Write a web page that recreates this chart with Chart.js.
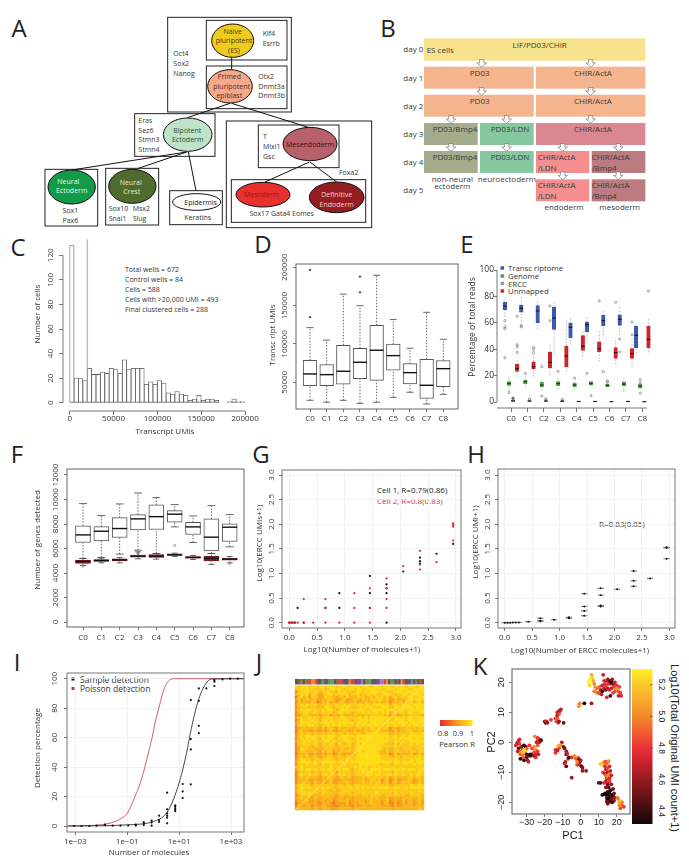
<!doctype html>
<html><head><meta charset="utf-8">
<style>html,body{margin:0;background:#fff;overflow:hidden;width:689px;height:861px}canvas{position:absolute}svg{position:absolute;left:0;top:0}</style>
<script src="https://cdn.jsdelivr.net/npm/chart.js@4"></script>
</head><body>
<svg id="ov" width="689" height="861" xmlns="http://www.w3.org/2000/svg"></svg>
<script>
const clusters=['C0','C1','C2','C3','C4','C5','C6','C7','C8'];
const clusterPos=[1,2,3,4,5,6,7,8,9];
// C histogram
const histBinCenters=[2500,7500,12500,17500,22500,27500,32500,37500,42500,47500,52500,57500,62500,67500,72500,77500,82500,87500,92500,97500,102500,107500,112500,117500,122500,127500,132500,137500,142500,147500,152500,157500,162500,167500,172500,177500,182500,187500,192500,197500];
const histCounts=[128,20,20,18,28,23,23,25,24,28,27,24,35,27,28,28,28,15,17,15,18,16,8,7,9,7,6,2,3,6,2,3,3,2,0,0,1,3,1,1];
const cutoffUmi=20000;
// D boxes [low,q1,median,q3,high]
const umiBoxes=[[26500,45650,60900,78700,121300],[24000,45650,60000,73000,105000],[26500,47400,64400,98300,165000],[22600,54800,76100,94400,150000],[24000,52600,91800,124400,189600],[30400,65700,84800,100000,131800],[37000,47800,62600,74400,94400],[21700,29100,46100,80000,141300],[34300,44300,67800,78300,106100]];
const umiOutliers=[[1,196600],[1,135000],[4,187900],[4,167400]];
// E boxes
const transcriptomeBoxes=[[64.6,69.7,72.7,75.5,78.5],[60.9,68,71,73.5,79.3],[55,60,69,73,78],[35.4,55,63.6,72,75.7],[43.7,48.7,56.6,59.8,63.6],[45,53.3,58.6,60.6,64.6],[50.8,57.8,61.6,65.6,70.2],[50.8,58,62.6,66,71.7],[37,41,50.5,57.3,60]];
const transcriptomeOut=[[1,61.6],[1,57],[1,55.5],[1,33.6],[2,58],[2,57],[6,21.7],[7,23],[8,47.7],[8,38]];
const genomeBoxes=[[9,12.6,13.9,15.4,19],[11,13.9,15.4,16.7,20],[8.3,11.6,12.9,14.9,16.7],[9.6,12.4,13.9,15.4,18.4],[9.6,11.6,12.9,14.1,15.4],[12,12.9,13.9,15.4,16],[10.9,11.6,12.6,13.6,14.4],[7.8,12.1,13.6,15.2,18.4],[9.6,10.6,12.1,13.4,14.6]];
const genomeOut=[[1,7.3],[2,21.7],[3,26.8],[3,4.5],[4,23.2],[5,18],[6,4.8],[7,16],[7,15],[9,17],[9,6.6],[9,14.4]];
const erccBoxes=[[0,.4,.8,1.2,2],[0,.4,.7,1,1.5],[0,.4,.7,1,1.6],[0,.3,.6,.9,1.4],[0,.2,.4,.5,.8],[0,.2,.4,.6,.9],[0,.1,.3,.4,.6],[0,.2,.4,.6,.9],[0,.1,.2,.4,.6]];
const erccOut=[[1,3],[1,2.5],[2,2],[3,2.2],[4,1.8]];
const unmappedBoxes=[[19.2,23.2,25.3,28.5,33],[19.2,25,26.8,30.5,36.9],[20,25.8,30,37.9,43.7],[23,26.8,34.8,42.4,63.4],[34.3,39,42.2,50.3,55.3],[30.5,37.9,40.4,45.5,54.5],[28.8,33,37.4,41.2,47.7],[26.8,33,36.6,40.4,49.5],[37.6,41.2,47.5,57.3,62.9]];
const unmappedOut=[[1,43.4],[1,42],[1,37.6],[1,65],[2,41.4],[2,39.9],[2,37.4],[3,72.7],[3,61.6],[6,76.5],[7,75.5],[8,60.6],[8,51],[9,84]];
// F boxes
const genesHighBoxes=[[5185,6490,7110,7850,9665],[5267,6625,7410,7790,8690],[5540,6900,7630,8525,9640],[5865,7520,8420,8770,10530],[5590,7550,8600,9555,10150],[7765,8145,8800,9095,9585],[6490,7140,7765,8145,8660],[5590,5810,6925,8420,9500],[6135,6570,7740,8010,8770]];
const genesHighOut=[[6,6245]];
const genesLowBoxes=[[4615,4780,4940,5050,5185],[4830,4940,5020,5100,5210],[4830,4995,5077,5160,5267],[5160,5295,5375,5457,5730],[5130,5267,5375,5512,5590],[5350,5430,5484,5565,5620],[5100,5210,5267,5350,5430],[4700,4995,5185,5375,5590],[4830,5050,5130,5210,5350]];
const genesLowOut=[[1,4560],[4,5650],[4,5600],[9,4780]];
// G points
const cell1Points=[[0,0],[.05,0],[.1,0],[.15,.3],[.26,0],[.65,.3],[.9,.3],[.9,.6],[1.45,.3],[1.45,.6],[1.45,.95],[1.75,0],[1.75,.6],[1.75,.7],[1.75,.78],[2.05,1.04],[2.35,1.2],[2.35,1.25],[2.35,1.32],[2.65,1.4],[2.95,1.6]];
const cell2Points=[[0,0],[.02,0],[.05,0],[.08,0],[.15,0],[.26,0],[.26,.48],[.43,0],[.65,0],[.65,.3],[.65,.48],[.9,0],[1.17,0],[1.17,.3],[1.17,.6],[1.45,0],[1.45,.3],[1.45,.7],[1.75,.3],[1.75,.48],[1.75,.7],[1.75,.9],[2.05,1.15],[2.35,1.08],[2.35,1.18],[2.35,1.46],[2.65,1.23],[2.95,1.67],[2.95,1.95],[2.95,1.98],[2.95,2.0],[2.95,2.02]];
// H points
const meanErccPoints=[[0,0],[.05,0],[.1,0],[.15,.003],[.2,.005],[.26,.006],[.43,.02],[.65,.03],[.65,.04],[.65,.09],[.9,.06],[1.17,.09],[1.17,.11],[1.45,.14],[1.45,.24],[1.45,.33],[1.45,.59],[1.75,.33],[1.75,.35],[1.75,.56],[1.75,.7],[2.05,.68],[2.35,.74],[2.35,.85],[2.35,1.05],[2.65,.9],[2.95,1.3],[2.95,1.52],[2.95,1.53]];
// I
const sampleDetection=[[-3.05,0],[-2.76,0],[-2.46,0],[-2.18,.2],[-1.86,.5],[-1.86,.9],[-1.56,.2],[-1.26,.3],[-.96,.3],[-.67,.3],[-.67,.9],[-.36,.7],[-.36,1.8],[-.36,2.7],[-.06,.2],[-.06,2.3],[-.06,3.6],[.23,2.7],[.23,4],[.23,7],[.54,1.8],[.54,5.7],[.54,7],[.54,8.6],[.54,11.3],[.54,22.6],[.85,10],[.85,11],[.85,12],[.85,13],[.85,14],[1.14,19],[1.14,23.5],[1.14,28.5],[1.45,28.3],[1.45,52],[1.45,59],[1.45,85.5],[1.76,63],[1.76,68],[1.76,85],[1.76,93.4],[2.05,93.4],[2.36,95],[2.36,98],[2.36,99],[2.67,99.5],[2.96,100],[3.26,100]];
const sampleFit=[[-3.3,0],[-2,.2],[-1,.8],[0,3],[.51,8.6],[.77,17.6],[1.03,31],[1.28,49],[1.47,66],[1.67,81],[1.86,91],[2.12,98.6],[2.3,99.8],[3.5,100]];
const poissonCurve=[[-3.3,0],[-2.5,.3],[-2,.9],[-1.5,2.8],[-1.2,5.5],[-1,8.5],[-.7,20],[-.5,29],[-.32,40],[-.15,52],[-.04,60],[.1,72],[.22,80],[.35,89],[.47,95],[.6,98.5],[.77,100],[1.5,100],[3.5,100]];
// J : digit d = Pearson 0.8 + 0.02 d, top row first
const pearsonRows=[
"878887887887888788887888788878887888788887888788",
"778787877786788787778878877888787788878888778888",
"477887787677877687877678878788878877788878888878",
"668786786567886778786778677878777888767788788887",
"378675776558776567686667776676878675786777887788",
"575676675566776556755676576677787675576667787887",
"476665764576756567656675667667676674666767786786",
"578787787677877877878778877878888786787788878888",
"467776776768876778787677878787778887688788887888",
"568788787787887678887878887788888788877887888888",
"467887787687786788787677787878878786787877887788",
"456776666566756667666676667677777675675676777776",
"578778787677887778877778878788888887788787887888",
"468777877688787787887677888788888787788887888788",
"578888787788888788888878888788888888878888788888",
"478778877677878787877778787888878787787787878878",
"456766676575776576676667767687786774665667767677",
"367665565565675566765675667677776665575667776676",
"467677676676777677677677767878877776676777787778",
"578788787787888778887878888888888887787787888888",
"468787887687887687887678788888888787787878887887",
"577878787778878777888778888888888887788787888888",
"477877787677787687677678788888888777686877787887",
"467777677677777677777678888888887777787777777778",
"458776766667776667667678888888887676677677776777",
"467766676576775667677678878888876676677767677687",
"366675565565674576565678888888876674575666675676",
"467676676566776677677778888888887776677677777787",
"478777677677877677787778888888887777787777787887",
"578888787788888788787888888888888888788788887888",
"477787787687787777877777888888877787687778778787",
"678777777777787777777787878778787777777777777777",
"578788787787887687887677888788887888788787888788",
"467777677677787577777677787887787777687777777787",
"478778787678787687877678778887887788787787787887",
"467677666576776567667566676777777675676666776776",
"466675565565675556665566675677674674575566765676",
"466766576575675566676566676676775674675676765676",
"678777677677777677677677777777877776677777787787",
"578878777787877677778778787878788887788778788888",
"678777777777767667777777777777777777777777777787",
"577878777687776677777677787777877777687777787777",
"467777666676766567667676677677776677677676677776",
"567666576566665566566566666676766665566566666676",
"466675565565664566675566665676665674565575665675",
"365665565465653555574565675676664664464565665675",
"466566465566554456565465566566665565465566665666",
"566666566566655566666566666666666666566666666676"];
const sampleBand="kkbokorrnnrkkgpkoggkbrrpkknrrkpplkoogkkppllrnkgokbknrkkpgkokrk";
// K : [PC1, PC2, log10 UMI]
const pcaTop=[[6,22.5,5.1],[6.5,21.5,5.2],[5,21,5.3],[4.5,20,5.3],[5,19,5.25],[7,20.5,5.1],[7.5,19.5,5.0],[8,18.5,5.05],[7.5,17,4.95],[8,17,5.0],[9,18,4.95],[9,16.5,5.0],[10,16.5,4.85],[10.5,18.5,4.9],[11,17.5,4.7],[11.5,16,4.7],[12,17,4.4],[12,19,4.7],[12.5,22.5,4.7],[13,20.5,4.75],[13,18,4.65],[13.5,19.5,4.8],[14,17.5,4.5],[14,19,4.8],[14.5,20.5,4.7],[14.5,15,4.75],[15,18,4.65],[15,21,4.6],[15.5,19.5,4.8],[16,20.5,4.5],[16,17.5,4.75],[16.5,15.5,4.4],[16.5,19.5,4.75],[17,20,4.3],[17,18,4.7],[17.5,21,4.6],[18,19.5,4.5],[18,16.5,4.8],[18.5,18.5,4.75],[19,20,4.7],[19,17,4.85],[19.5,18,5.0],[20,19,4.8],[20.5,18,5.05],[21,17,4.9],[21.5,18.5,4.85],[22,16.5,4.8],[22.5,15.5,4.75],[21,15.5,4.7],[-1,12.5,5.1],[-1,12,5.05],[-.5,13,5.0],[2,13,4.3],[6,13,4.6]];
const pcaMidUp=[[-20,7,4.6],[-19.5,6.5,4.5],[-19,7,4.75],[-18.5,6.5,4.6],[-16.5,7.5,4.8],[-14,8,4.8],[-13.5,7,4.85],[-13,8,4.9],[-13,9,4.7],[-12.5,6.5,4.75],[-12,7,4.6],[-13,10,4.75],[-12.5,9.5,4.6],[-12,10.5,4.7],[-11.5,10.5,4.65],[-11,11,4.7],[-12,9.5,4.85],[-9.5,6.5,4.45]];
const pcaLeft=[[-34,1,4.75],[-34.5,.5,4.7],[-35,0,4.75],[-35.5,-.5,4.65],[-34,-.5,4.8],[-36,-1,4.75],[-33,-1.5,4.6],[-34.5,-2,4.5],[-33,-3,4.85],[-35,-3,4.7],[-32,-2.5,4.4],[-32,-4,5.0],[-33.5,-4,4.9],[-31.5,-1,4.3],[-30.5,-1.5,4.4],[-32,-5,4.9],[-31,-3.5,5.1],[-31.5,-6,4.4],[-33.5,-5.5,4.35],[-30,-5,4.5],[-30,-4,4.4],[-29,-4.2,4.4],[-28,-4,4.5],[-29.5,-6,4.6],[-29,-6.5,4.7],[-28,-4.5,4.4],[-27,-4,4.35],[-27,-2,4.8],[-26,-1.5,5.0],[-25.5,-3,4.9],[-25,-2.5,5.05],[-26,-3.5,4.85],[-25,-4,4.75],[-24,-3,4.8],[-24,-1,4.9],[-23.5,-4,4.7],[-25,-5,4.8],[-26,-4.5,4.65],[-25.5,2,5.0],[-24,1.5,4.8],[-23,1,4.75],[-24,.5,4.85],[-22.5,.5,4.4],[-23,0,4.7],[-24.5,0,4.7],[-22,.7,4.45],[-30.5,-2.5,5.15],[-30,-2,4.9],[-28.5,-1,4.8],[-32.5,-3.2,5.2],[-31.5,-2.5,5.25]];
const pcaMid=[[-10.5,0,4.65],[-11,-1,5.0],[-12,-1,5.1],[-12.5,-1.5,5.15],[-12,-2,4.85],[-14,-2.5,4.75],[-14,-3.5,4.8],[-13,-2.8,4.7],[-9.5,-1.5,4.5],[-9,-2,4.55],[-8,-3,4.6],[-8,-4,4.45],[-7.5,-3.8,4.7],[-8.5,-6.5,4.6],[-9,-7,4.7],[-7,-5.5,4.75],[-6.5,-5,4.3],[-8,-8,4.45],[-5,-5,4.75],[-3.5,-4.5,5.0],[-3,-5,5.05],[-2.5,-5.5,4.85],[-1.5,-5,5.0],[-1,-5.5,4.7],[-1,-6,4.35],[-.5,-6.5,4.5],[0,-6,4.65],[-2,-6.5,5.0],[-2,-7.5,4.85],[-.5,-7.5,4.7],[.5,-8,4.45],[1,-8.5,4.55],[1,-9.5,4.6],[3,-9.5,4.6],[-5,-11.8,4.6]];
const pcaBottom=[[11,-7.2,5.2],[12,-7.5,5.25],[12.5,-7,5.1],[13,-6.5,5.05],[14,-6.5,4.8],[14.5,-7,4.9],[13.5,-8,4.75],[15.5,-6.3,5.0],[14,-9,4.7],[15,-8.5,4.85],[16,-8,4.75],[12.5,-10,4.8],[13.5,-10.5,4.65],[15,-10,4.6],[16,-10.5,5.0],[16.5,-9.5,4.7],[14,-11,4.9],[14.5,-12,4.7],[15,-11.5,5.0],[16,-12,4.75],[17,-11,4.7],[16,-13,4.8],[14,-13,4.65],[13,-13.5,4.75],[11,-13.5,4.4],[10,-13.5,4.5],[15,-14,4.5],[17,-14,4.6],[15.5,-15,4.4],[18,-15.5,4.5],[16.5,-16,4.35],[12,-17.5,4.35],[13.5,-17,4.3],[14,-17.5,4.3],[15,-16.5,4.4],[15.5,-17.5,4.35],[16,-17,4.3],[17,-17.5,4.4],[18,-18,4.35],[18.5,-17,4.5],[14.5,-18.5,4.45],[15,-19,4.3],[16,-18.5,4.3],[16.5,-19.5,4.4],[17,-18.8,4.5],[17.5,-20,4.35],[15.5,-20,4.45],[15,-20.5,4.6],[14.5,-19.8,4.5],[18.5,-19.5,4.55],[19,-18.5,4.6],[14,-15,4.55],[21,-19,5.05],[21.5,-20,5.1],[22,-19.5,5.2],[22.5,-20.5,5.1],[23,-20,5.0],[23,-21,4.95],[24,-21.5,4.8],[22,-22,4.85],[20.5,-18.5,4.95],[21.5,-21,5.0]];

// ---------- helpers ----------
const FONT='"Open Sans"', HELV='"Liberation Sans"';
Chart.defaults.animation=false;
Chart.defaults.font.family=FONT;
const mctx=document.createElement('canvas').getContext('2d');
const measure=(t,f)=>{mctx.font=f;return mctx.measureText(t).width};
const lim=(p0,v0,p1,v1,pa,pb)=>{const k=(v1-v0)/(p1-p0);return [v0+(pa-p0)*k,v0+(pb-p0)*k]};
const look={id:'look',afterDatasetsDraw(c,_,o){const g=c.ctx,a=c.chartArea;g.save();
  if(o.frame){g.strokeStyle=o.frame;g.lineWidth=o.frameW||1;g.strokeRect(a.left,a.top,a.right-a.left,a.bottom-a.top);}
  g.strokeStyle='#555';g.lineWidth=.8;
  if(o.ax){const s=c.scales.x,t=s.ticks;g.beginPath();g.moveTo(o.ax==='full'?a.left:s.getPixelForValue(t[0].value),a.bottom);g.lineTo(o.ax==='full'?a.right-(o.axInset||0):s.getPixelForValue(t[t.length-1].value),a.bottom);g.stroke();}
  if(o.ay){const s=c.scales.y,t=s.ticks;g.beginPath();g.moveTo(a.left,s.getPixelForValue(t[0].value));g.lineTo(a.left,s.getPixelForValue(t[t.length-1].value));g.stroke();}
  g.restore();}};
function scaleOpts(name,a,plot,m,org){
  const isX=name==='x',size=a.size||8,family=a.family||FONT,tl=a.tl??3;
  const labels=a.labels||a.vals.map(String);
  const fstr=size+'px '+family;let padding,extra={};
  if(isX)padding=a.labelAt-plot[3]-tl-size*.62;
  else if(a.rotate){const w=Math.max(...labels.map(t=>measure(t,fstr)));padding=plot[0]-a.labelAt-tl-w/2;extra={minRotation:90,maxRotation:90,crossAlign:'center'};}
  else padding=plot[0]-tl-a.labelAt;
  const o={type:a.type||'linear',min:a.lim[0],max:a.lim[1],bounds:'data',offset:false,
    afterBuildTicks(s){s.ticks=a.vals.map(v=>({value:v}));},
    afterFit(s){if(isX)s.height=m.b;else s.width=m.l;
      if(a.title&&!s.__w){s.__w=true;const orig=s.drawTitle;s.drawTitle=function(){const ts=a.title.size||size,lh=ts*1.2;
        const x0=isX?(s.left+s.right)/2:s.left+lh/2,y0=isX?s.bottom-lh/2:(s.top+s.bottom)/2;
        s.ctx.save();s.ctx.translate(a.title.at[0]-org[0]-x0,a.title.at[1]-org[1]-y0);orig.call(s);s.ctx.restore();};}},
    ticks:Object.assign({display:true,autoSkip:false,padding,color:a.color||'#333',font:{size,family},callback:(v,i)=>labels[i]},isX?{maxRotation:0,minRotation:0}:extra),
    grid:{display:true,offset:false,drawOnChartArea:!!a.grid,color:'#eeeeee',tickColor:'#555',tickLength:tl,lineWidth:.8},
    border:{display:false}};
  if(a.title)o.title={display:true,text:a.title.text,color:a.color||'#333',padding:0,font:{size:a.title.size||size,family}};
  return o;
}
function mk(plot,x,y,datasets,lookOpts,mm){
  const m=Object.assign({l:60,r:20,t:12,b:40},mm||{});
  const cv=document.createElement('canvas');const w=plot[2]-plot[0]+m.l+m.r,h=plot[3]-plot[1]+m.t+m.b;
  const org=[plot[0]-m.l,plot[1]-m.t];
  cv.width=w;cv.height=h;cv.style.cssText=`left:${org[0]}px;top:${org[1]}px;width:${w}px;height:${h}px`;
  document.body.appendChild(cv);
  return new Chart(cv,{type:'scatter',data:{datasets},plugins:[look],options:{responsive:false,animation:false,devicePixelRatio:1,
    layout:{padding:{top:m.t,right:m.r,left:0,bottom:0}},
    plugins:{legend:{display:false},tooltip:{enabled:false},look:lookOpts||{}},
    scales:{x:scaleOpts('x',x,plot,m,org),y:scaleOpts('y',y,plot,m,org)}}});
}
function boxSets(rows,xs,o){
  const wh=[];rows.forEach((r,i)=>{const X=xs[i];wh.push({x:X,y:r[0]},{x:X,y:r[1]},{x:X,y:NaN},{x:X,y:r[3]},{x:X,y:r[4]},{x:X,y:NaN});});
  const out=[{type:'line',showLine:true,data:wh,borderColor:o.whisk||'#444',borderWidth:o.wW||.8,borderDash:[1.5,1.5],pointRadius:0,order:6},
   {type:'bar',data:rows.map((r,i)=>({x:xs[i],y:[r[1],r[3]]})),backgroundColor:o.fill||'#fff',borderColor:o.stroke||'#555',borderWidth:o.bW??1,borderSkipped:false,barThickness:o.w,grouped:false,order:5},
   {type:'scatter',data:rows.map((r,i)=>({x:xs[i],y:r[2]})),pointStyle:'line',pointRadius:o.w/2,pointBorderWidth:o.mW||1.4,pointBorderColor:o.med||'#111',order:1}];
  if(o.cap)out.push({type:'scatter',data:rows.flatMap((r,i)=>[{x:xs[i],y:r[0]},{x:xs[i],y:r[4]}]),pointStyle:'line',pointRadius:o.cap,pointBorderWidth:.8,pointBorderColor:o.whisk||'#444',order:4});
  return out;
}
const outSet=(list,dx,col)=>({type:'scatter',data:list.map(p=>({x:p[0]+dx,y:p[1]})),pointRadius:1.1,pointBorderWidth:.6,pointBorderColor:col||'#666',pointBackgroundColor:'rgba(0,0,0,0)',order:2});
const pts=(list,col,r)=>({type:'scatter',data:list.map(p=>({x:p[0],y:p[1]})),pointRadius:r,pointBorderWidth:0,pointBackgroundColor:col,order:1});
const k5=[50000,100000,150000,200000];

// ---------- C ----------
{const P=[63,239,250,411];
mk(P,{lim:lim(69.7,0,245,200000,P[0],P[2]),vals:[0,50000,100000,150000,200000],labelAt:419,tl:4,title:{text:'Transcript UMIs',at:[165,432]}},
 {lim:lim(402.7,0,255.3,120,P[3],P[1]),vals:[0,20,40,60,80,100,120],rotate:true,labelAt:51,tl:4,title:{text:'Number of cells',at:[38,314]}},
 [{type:'line',showLine:true,data:[{x:cutoffUmi,y:0},{x:cutoffUmi,y:133}],borderColor:'#dd8a8a',borderWidth:1,pointRadius:0,order:1},
  {type:'bar',data:histCounts.map((v,i)=>({x:histBinCenters[i],y:v})),backgroundColor:'#fff',borderColor:'#555',borderWidth:.8,borderSkipped:false,barThickness:4.38,grouped:false,order:2}],
 {ax:'ticks',ay:'ticks'});}
// ---------- D ----------
{const P=[296,264,458,409];
mk(P,{lim:lim(310,1,443.3,9,P[0],P[2]),vals:clusterPos,labels:clusters,labelAt:419,tl:3},
 {lim:lim(382.3,50000,267.3,200000,P[3],P[1]),vals:k5,rotate:true,labelAt:285,tl:3,title:{text:'Transc ript UMIs',at:[273,335]}},
 [...boxSets(umiBoxes,clusterPos,{w:13.7,cap:3.5}),Object.assign(outSet(umiOutliers,0,'#444'),{pointRadius:.9,pointBackgroundColor:'#444'})],
 {frame:'#666',frameW:1});}
// ---------- E ----------
{const P=[497,262,654,408];const off=[-.375,-.125,.125,.375];const xsAt=d=>clusterPos.map(v=>v+d);
mk(P,{lim:lim(511,1,642.3,9,P[0],P[2]),vals:clusterPos,labels:clusters,labelAt:419,tl:4},
 {lim:lim(402,0,270,100,P[3],P[1]),vals:[0,20,40,60,80,100],labelAt:494,tl:3,size:8.5,title:{text:'Percentage of total reads',at:[473,327],size:8.5}},
 [...boxSets(transcriptomeBoxes,xsAt(off[0]),{w:3.6,fill:'#3c5ba6',stroke:'#3c5ba6',med:'#0c1430',whisk:'#888',mW:1.1,wW:.6}),
  ...boxSets(genomeBoxes,xsAt(off[1]),{w:3.6,fill:'#5a9e50',stroke:'#5a9e50',med:'#0e2a10',whisk:'#888',mW:1.1,wW:.6}),
  ...boxSets(erccBoxes,xsAt(off[2]),{w:3.6,fill:'#888',stroke:'#888',med:'#111',whisk:'#888',mW:1.1,wW:.6}),
  ...boxSets(unmappedBoxes,xsAt(off[3]),{w:3.6,fill:'#cf2429',stroke:'#cf2429',med:'#3a0508',whisk:'#888',mW:1.1,wW:.6}),
  outSet(transcriptomeOut,off[0]),outSet(genomeOut,off[1]),outSet(erccOut,off[2],'#333'),outSet(unmappedOut,off[3])],
 {ax:'full',axInset:7,ay:'ticks'},{r:10});}
// ---------- F ----------
{const P=[67,469,244,627];
mk(P,{lim:lim(83,1,229.7,9,P[0],P[2]),vals:clusterPos,labels:clusters,labelAt:638,tl:3},
 {lim:lim(622,0,475,12000,P[3],P[1]),vals:[0,2000,4000,6000,8000,10000,12000],rotate:true,labelAt:55.5,tl:3,title:{text:'Number of genes detected',at:[38,540]}},
 [...boxSets(genesHighBoxes,clusterPos,{w:15,cap:4}),outSet(genesHighOut,0),
  ...boxSets(genesLowBoxes,clusterPos,{w:15,fill:'#8f1f28',stroke:'#6f1a20',cap:3,mW:1.4}),outSet(genesLowOut,0)],
 {frame:'#666',frameW:1});}
// ---------- G ----------
{const P=[282,470,461,628];
mk(P,{lim:lim(289.3,0,456,3,P[0],P[2]),vals:[0,.5,1,1.5,2,2.5,3],labels:['0.0','0.5','1.0','1.5','2.0','2.5','3.0'],labelAt:638,tl:3,grid:true,title:{text:'Log10(Number of molecules+1)',at:[362,650]}},
 {lim:lim(622.7,0,475,3,P[3],P[1]),vals:[0,.5,1,1.5,2,2.5,3],labels:['0.0','0.5','1.0','1.5','2.0','2.5','3.0'],rotate:true,labelAt:271.5,tl:3,grid:true,title:{text:'Log10(ERCC UMIs+1)',at:[260,543]}},
 [pts(cell2Points,'#d8283c',1.1),pts(cell1Points,'#111',1.1)],
 {frame:'#777',frameW:1});}
// ---------- H ----------
{const P=[498,469,675,628];
mk(P,{lim:lim(504.7,0,669.3,3,P[0],P[2]),vals:[0,.5,1,1.5,2,2.5,3],labels:['0.0','0.5','1.0','1.5','2.0','2.5','3.0'],labelAt:638,tl:3,grid:true,title:{text:'Log10(Number of ERCC molecules+1)',at:[580,651]}},
 {lim:lim(622.7,0,475,3,P[3],P[1]),vals:[0,.5,1,1.5,2,2.5,3],labels:['0.0','0.5','1.0','1.5','2.0','2.5','3.0'],rotate:true,labelAt:487.5,tl:3,grid:true,title:{text:'Log10(ERCC UMI+1)',at:[475.5,542]}},
 [{type:'scatter',data:meanErccPoints.map(p=>({x:p[0],y:p[1]})),pointStyle:'line',pointRadius:3.2,pointBorderWidth:1,pointBorderColor:'#777',order:2},pts(meanErccPoints,'#111',1)],
 {frame:'#777',frameW:1},{r:13});}
// ---------- I ----------
{const P=[67,673,244,832];const lx=lim(75.3,-3,231,3,P[0],P[2]);const toXY=l=>l.map(p=>({x:10**p[0],y:p[1]}));
mk(P,{type:'logarithmic',lim:[10**lx[0],10**lx[1]],vals:[1e-3,1e-1,1e1,1e3],labels:['1e\u221203','1e\u221201','1e+01','1e+03'],labelAt:842,tl:3,grid:true,title:{text:'Number of molecules',at:[149,853]}},
 {lim:lim(826,0,678.7,100,P[3],P[1]),vals:[0,20,40,60,80,100],rotate:true,labelAt:55,tl:3,grid:true,title:{text:'Detection percentage',at:[38,748]}},
 [{type:'line',showLine:true,data:toXY(poissonCurve),borderColor:'#d85a6a',borderWidth:1,pointRadius:0,cubicInterpolationMode:'monotone',order:3},
  {type:'line',showLine:true,data:toXY(sampleFit),borderColor:'#333',borderWidth:.9,pointRadius:0,cubicInterpolationMode:'monotone',order:2},
  {type:'scatter',data:toXY(sampleDetection),pointRadius:1.1,pointBorderWidth:0,pointBackgroundColor:'#111',order:1}],
 {frame:'#777',frameW:1},{b:29});}
// ---------- J ----------
{const P=[291,675,428,814];const N=pearsonRows.length;
const heat=['#ed2b24','#ef4423','#f25c22','#f47421','#f68b1f','#f8a11c','#fab51a','#fcc918','#fddc16','#ffef14'];
const bandCols={k:'#5d5a55',b:'#8a6a4a',o:'#7d8a45',r:'#dc4a3c',n:'#ee8a3c',g:'#5aa469',p:'#7a4f9a',l:'#a580b5'};
const cells=[];pearsonRows.forEach((row,r)=>[...row].forEach((d,c)=>cells.push({x:c+.5,y:N-r-.5,v:+d})));
const cv=document.createElement('canvas');cv.width=137;cv.height=139;cv.style.cssText=`left:${P[0]}px;top:${P[1]}px;width:137px;height:139px`;document.body.appendChild(cv);
new Chart(cv,{type:'scatter',data:{datasets:[
  {type:'line',showLine:true,data:[{x:0,y:0},{x:N,y:N}],borderColor:'#ffe45c',borderWidth:1,pointRadius:0,order:1},
  {type:'bar',data:[...sampleBand].map((ch,i)=>({x:(i+.5)*N/sampleBand.length,y:[N+.6,N*139/132]})),backgroundColor:[...sampleBand].map(ch=>bandCols[ch]),barThickness:137/sampleBand.length+.3,grouped:false,borderWidth:0,order:3},
  {type:'scatter',data:cells,pointStyle:'rect',pointRadius:2.2,pointBorderWidth:0,pointBackgroundColor:cells.map(c=>heat[c.v]),clip:false,order:2}]},
 options:{responsive:false,animation:false,devicePixelRatio:1,layout:{padding:0},plugins:{legend:{display:false},tooltip:{enabled:false}},
 scales:{x:{type:'linear',min:0,max:N,display:false,offset:false},y:{type:'linear',min:0,max:N*139/132,display:false}}}});}
// ---------- K ----------
const cbStops=[[4.316,'#120808'],[4.5,'#6b1216'],[4.7,'#c6202a'],[4.8,'#ed3237'],[5.0,'#f58a2b'],[5.2,'#fdc82a'],[5.297,'#fff222']];
function umiColor(v){const hex=h=>[1,3,5].map(i=>parseInt(h.substr(i,2),16));for(let i=1;i<cbStops.length;i++){if(v<=cbStops[i][0]){const t=Math.max(0,(v-cbStops[i-1][0])/(cbStops[i][0]-cbStops[i-1][0]));const a=hex(cbStops[i-1][1]),b=hex(cbStops[i][1]);return `rgb(${a.map((x,j)=>Math.round(x+(b[j]-x)*t)).join(',')})`;}}return cbStops[cbStops.length-1][1];}
{const P=[512,669,630,814];const all=[...pcaTop,...pcaMidUp,...pcaLeft,...pcaMid,...pcaBottom];
mk(P,{lim:lim(526.7,-30,616.7,20,P[0],P[2]),vals:[-30,-20,-10,0,10,20],labels:['\u221230','\u221220','\u221210','0','10','20'],labelAt:823,tl:3,family:HELV,size:9,color:'#222',title:{text:'PC1',at:[573,836],size:11}},
 {lim:lim(742.3,0,682.3,20,P[3],P[1]),vals:[-20,-10,0,10,20],labels:['\u221220','\u221210','0','10','20'],rotate:true,labelAt:501.5,tl:3,family:HELV,size:9,color:'#222',title:{text:'PC2',at:[491.5,742],size:11}},
 [{type:'scatter',data:all.map(p=>({x:p[0],y:p[1]})),pointRadius:1.9,pointBorderWidth:0,pointBackgroundColor:all.map(p=>umiColor(p[2])),order:1}],
 {frame:'#888',frameW:1.4},{b:30,t:10,r:10});}

// ---------- overlay SVG: schematics, annotations, legends ----------
const ov=document.getElementById('ov');const NS='http://www.w3.org/2000/svg';
function el(n,a,txt){const e=document.createElementNS(NS,n);for(const k in a)e.setAttribute(k,a[k]);if(txt!=null)e.textContent=txt;ov.appendChild(e);return e;}
function T(x,y,s,o={}){return el('text',Object.assign({x,y,'font-family':o.f||'Open Sans','font-size':o.s||7,fill:o.c||'#333','text-anchor':o.a||'start','dominant-baseline':'central'},o.rot?{transform:`rotate(${o.rot} ${x} ${y})`}:{}),s);}
// panel letters
[['A',19,27],['B',388,27],['C',18,246],['D',263,243],['E',467,243],['F',17,453],['G',261,453],['H',476,453],['I',17,661],['J',259,661],['K',480,665]].forEach(l=>T(l[1],l[2],l[0],{s:24,a:'middle',c:'#222'}));
// A (coordinates in 3x crop pixels)
const z=v=>v/3;
const R=(a,b,c,d)=>el('rect',{x:z(a),y:z(b),width:z(c-a),height:z(d-b),fill:'none',stroke:'#222','stroke-width':1});
const L=(a,b,c,d)=>el('line',{x1:z(a),y1:z(b),x2:z(c),y2:z(d),stroke:'#111','stroke-width':1});
const E=(cx,cy,rx,ry,f)=>el('ellipse',{cx:z(cx),cy:z(cy),rx:z(rx),ry:z(ry),fill:f,stroke:'#111','stroke-width':1});
const TZ=(x,y,s,o)=>T(z(x),z(y),s,o);
R(503,52,874,336);R(619,61,861,180);R(619,198,861,326);R(404,341,645,469);R(679,363,1115,683);R(775,375,1017,503);R(694,539,1097,667);R(135,508,293,678);R(317,505,476,675);R(509,572,667,674);
L(695,170,695,208);L(690,310,562,353);L(695,310,925,382);L(928,486,795,546);L(930,486,1010,546);L(560,456,215,510);L(560,456,415,505);L(565,456,588,572);
E(698,122,63,50,'#eecb1f');E(690,259,67,50,'#f5a98a');E(563,404,73,50,'#bfe3c9');E(930,432,81,50,'#b8606b');E(789,584,81,37,'#e8302e');E(1010,592,82,46,'#951c20');E(215,561,71,51,'#129a48');E(397,559,71,51,'#4f6b2e');E(590,606,72,25,'#fff');
const mid={a:'middle'};
[['Naive',698,94,'#4a3a10'],['pluripotent',702,122,'#4a3a10'],['(ES)',702,152,'#4a3a10'],['Primed',688,229,'#5a2a20'],['pluripotent',695,258,'#5a2a20'],['epiblast',688,287,'#5a2a20'],['Bipotent',562,391,'#2a4a3a'],['Ectoderm',563,419,'#2a4a3a'],['Mesendoderm',930,432,'#3a1012'],['Mesoderm',785,584,'#8e1a1a'],['Definitive',1010,584,'#f3d2c4'],['Endoderm',1010,612,'#f3d2c4'],['Neural',205,544,'#e6f5ea'],['Ectoderm',215,572,'#e6f5ea'],['Neural',392,546,'#e6ecd8'],['Crest',395,575,'#e6ecd8'],['Epidermis',602,607,'#222']].forEach(t=>TZ(t[1],t[2],t[0],{a:'middle',c:t[3]}));
[['Klf4',788,101],['Esrrb',788,131],['Oct4',520,161],['Sox2',520,190],['Nanog',520,220],['Otx2',775,229],['Dnmt3a',775,258],['Dnmt3b',775,287],['Eras',415,361],['Sez6',415,391],['Stmn3',415,419],['Stmn4',415,448],['T',789,410],['Mixl1',789,439],['Gsc',789,468],['Foxa2',1017,518],['Sox10',326,625],['Msx2',398,625],['Snai1',326,654],['Slug',398,654]].forEach(t=>TZ(t[1],t[2],t[0]));
[['Sox1',211,631],['Pax6',211,660],['Keratins',593,652],['Sox17 Gata4 Eomes',845,640]].forEach(t=>TZ(t[1],t[2],t[0],mid));
// B (3x crop pixels, origin x=350)
const bx=v=>350+v/3;
const BR=(a,b,c,d,f)=>el('rect',{x:bx(a),y:z(b),width:z(c-a),height:z(d-b),fill:f});
BR(222,115,886,182,'#f7e38c');
[[200,266],[284,350]].forEach(r=>{BR(222,r[0],551,r[1],'#f4b48e');BR(558,r[0],886,r[1],'#f4b48e');});
BR(222,369,383,435,'#a3ad8b');BR(390,369,551,435,'#85c8a0');BR(558,369,886,435,'#db8791');
BR(222,453,383,519,'#a3ad8b');BR(390,453,551,519,'#85c8a0');BR(558,453,718,519,'#f48f8f');BR(725,453,886,519,'#bb7b80');
BR(558,538,718,604,'#f48f8f');BR(725,538,886,604,'#bb7b80');
const BT=(x,y,s,a)=>T(bx(x),z(y),s,{s:8,a:a||'start',c:'#3a3a3a'});
[['day 0',145],['day 1',231],['day 2',315],['day 3',400],['day 4',484],['day 5',568]].forEach(d=>BT(160,d[1],d[0]));
BT(230,147,'ES cells');BT(569,132,'LIF/PD03/CHIR','middle');
[216,300].forEach(y=>BT(389,y,'PD03','middle'));[216,300,385].forEach(y=>BT(729,y,'CHIR/ActA','middle'));
[385,470].forEach(y=>{BT(315,y,'PD03/Bmp4','middle');BT(480,y,'PD03/LDN','middle');});
[[470,502],[552,585]].forEach(p=>{BT(563,p[0],'CHIR/ActA');BT(563,p[1],'/LDN');BT(725,p[0],'CHIR/ActA');BT(725,p[1],'/Bmp4');});
BT(307,535,'non-neural','middle');BT(307,556,'ectoderm','middle');BT(471,535,'neuroectoderm','middle');BT(642,618,'endoderm','middle');BT(809,618,'mesoderm','middle');
[[395,190],[722,190],[395,274],[722,274],[303,358],[470,358],[722,358],[303,442],[470,442],[638,442],[805,442],[638,527],[805,527]].forEach(a=>{const x=bx(a[0]),y=z(a[1]);
  el('path',{d:`M${x-2.2} ${y-3.7}h4.4v3.4h2.6l-4.8 4.2l-4.8-4.2h2.6z`,fill:'#fff',stroke:'#777','stroke-width':.7});});
// C note
['Total wells = 672','Control wells = 84','Cells = 588','Cells with >20,000 UMI = 493','Final clustered cells = 288'].forEach((s,i)=>T(125,[269.7,279.3,289.3,299,309][i],s,{s:7}));
// E legend
[['Transc riptome','#3c5ba6',268],['Genome','#5a9e50',276],['ERCC','#999',283.5],['Unmapped','#cf2429',291]].forEach(l=>{el('rect',{x:500.5,y:l[2]-1.7,width:3.6,height:3.4,fill:l[1]});T(508,l[2],l[0],{s:7.8});});
// G, H notes
T(377,489,'Cell 1, R=0.79(0.86)',{s:8,c:'#222'});T(377,500.5,'Cell 2, R=0.8(0.83)',{s:8,c:'#d8283c'});T(599,523,'R=0.83(0.85)',{s:8});
// I legend
el('rect',{x:71.5,y:677.5,width:3,height:3,fill:'#111'});T(80,679,'Sample detection',{s:8.5});
el('rect',{x:71.5,y:687,width:3,height:3,fill:'#c8323f'});T(80,688.7,'Poisson detection',{s:8.5});
// gradients
const defs=el('defs',{});
function grad(id,x2,y2,stops){const g=document.createElementNS(NS,'linearGradient');g.setAttribute('id',id);g.setAttribute('x1',0);g.setAttribute('y1',x2?0:1);g.setAttribute('x2',x2);g.setAttribute('y2',y2);stops.forEach(s=>{const st=document.createElementNS(NS,'stop');st.setAttribute('offset',s[0]);st.setAttribute('stop-color',s[1]);g.appendChild(st);});defs.appendChild(g);}
grad('gj',1,0,[[0,'#ed2b24'],[.5,'#f7941e'],[1,'#ffef14']]);
grad('gk',0,0,cbStops.map(s=>[(s[0]-4.316)/(5.297-4.316),s[1]]));
el('rect',{x:440,y:720,width:32.5,height:6,fill:'url(#gj)'});
[['0.8',443],['0.9',458],['1',472]].forEach(t=>{T(t[1],733,t[0],{s:7.6,a:'middle'});});
T(457,744,'Pearson R',{s:7.6,a:'middle'});
el('rect',{x:632,y:669,width:20.5,height:155,fill:'url(#gk)'});
[['5.2',684.7],['5.0',716.3],['4.8',748],['4.6',779.3],['4.4',811]].forEach(t=>{T(661.5,t[1],t[0],{s:8.5,a:'middle',rot:90,f:'Liberation Sans',c:'#222'});el('line',{x1:650,x2:652.5,y1:t[1],y2:t[1],stroke:'#333','stroke-width':.6});});
T(675,748,'Log10(Total Original UMI count+1)',{s:11,a:'middle',rot:90,f:'Liberation Sans',c:'#222'});
</script>
</body></html>
